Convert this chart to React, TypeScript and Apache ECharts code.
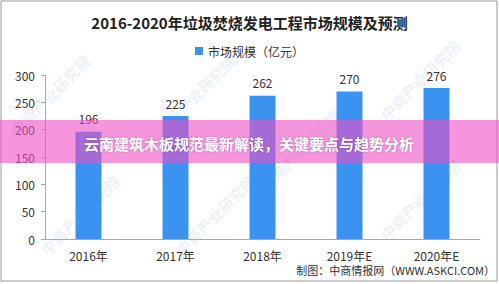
import React, { useEffect, useRef } from "react";
import * as echarts from "echarts";

const categories = ["2016年", "2017年", "2018年", "2019年E", "2020年E"];
const marketSize = [196, 225, 262, 270, 276];
const seriesName = "市场规模（亿元）";
const titleText = "2016-2020年垃圾焚烧发电工程市场规模及预测";
const sourceText = "制图：中商情报网（WWW.ASKCI.COM）";
const bannerText = "云南建筑木板规范最新解读，关键要点与趋势分析";
const watermarkText = "中商产业研究院";
const watermarkSpots = [
  [50, 95],
  [195, 95],
  [420, 80],
  [215, 215],
  [80, 215],
  [420, 200],
  [300, 150],
];

const FONT = "'Noto Sans CJK SC', 'Noto Sans', sans-serif";

export default function App() {
  const ref = useRef<HTMLDivElement>(null);

  useEffect(() => {
    if (!ref.current) return;
    const chart = echarts.init(ref.current, null, { renderer: "svg" });

    const watermarks = watermarkSpots.map(([x, y]) => ({
      type: "text",
      x,
      y,
      rotation: Math.PI / 4,
      z: 0,
      silent: true,
      style: {
        text: watermarkText,
        fill: "rgba(140,175,215,0.18)",
        font: `bold 15px ${FONT}`,
        align: "center",
        verticalAlign: "middle",
      },
    }));

    chart.setOption({
      animation: false,
      backgroundColor: "#ffffff",
      title: {
        text: titleText,
        left: "center",
        top: 10,
        textStyle: {
          fontFamily: FONT,
          fontSize: 15,
          fontWeight: "bold",
          color: "#222",
        },
      },
      legend: {
        data: [seriesName],
        top: 40,
        left: "center",
        itemWidth: 8,
        itemHeight: 8,
        icon: "rect",
        textStyle: { fontFamily: FONT, fontSize: 12, color: "#333" },
      },
      grid: { left: 45, right: 19, top: 75, bottom: 45, containLabel: false },
      xAxis: {
        type: "category",
        data: categories,
        axisLine: { lineStyle: { color: "#aaa" } },
        axisTick: { show: false },
        axisLabel: { fontFamily: FONT, fontSize: 12, color: "#333", margin: 10 },
      },
      yAxis: {
        type: "value",
        min: 0,
        max: 300,
        interval: 50,
        axisLine: { show: true, lineStyle: { color: "#aaa" } },
        axisTick: { show: true, length: 4, lineStyle: { color: "#aaa" } },
        splitLine: { show: false },
        axisLabel: { fontFamily: FONT, fontSize: 12, color: "#333", margin: 10 },
      },
      series: [
        {
          name: seriesName,
          type: "bar",
          data: marketSize,
          barWidth: 26,
          itemStyle: { color: "#3a93f0" },
          label: {
            show: true,
            position: "top",
            distance: 7,
            fontFamily: FONT,
            fontSize: 12,
            color: "#333",
          },
          z: 2,
        },
      ],
      graphic: [
        ...watermarks,
        {
          type: "rect",
          z: 1,
          silent: true,
          shape: { x: 1, y: 1, width: 496, height: 280 },
          style: { fill: "none", stroke: "#999", lineWidth: 1 },
        },
        {
          type: "rect",
          z: 100,
          shape: { x: 0, y: 120, width: 499, height: 43 },
          style: { fill: "rgba(238,78,196,0.6)" },
        },
        {
          type: "text",
          z: 101,
          x: 249,
          y: 143,
          style: {
            text: bannerText,
            fill: "#ffffff",
            font: `bold 15px ${FONT}`,
            align: "center",
            verticalAlign: "middle",
            textShadowColor: "rgba(0,0,0,0.25)",
            textShadowBlur: 2,
          },
        },
        {
          type: "text",
          z: 101,
          x: 495,
          y: 270,
          style: {
            text: sourceText,
            fill: "#333",
            font: `11px ${FONT}`,
            align: "right",
            verticalAlign: "middle",
          },
        },
      ],
    });

    return () => chart.dispose();
  }, []);

  return (
    <div
      ref={ref}
      style={{ position: "fixed", left: 0, top: 0, width: 499, height: 284 }}
    />
  );
}
